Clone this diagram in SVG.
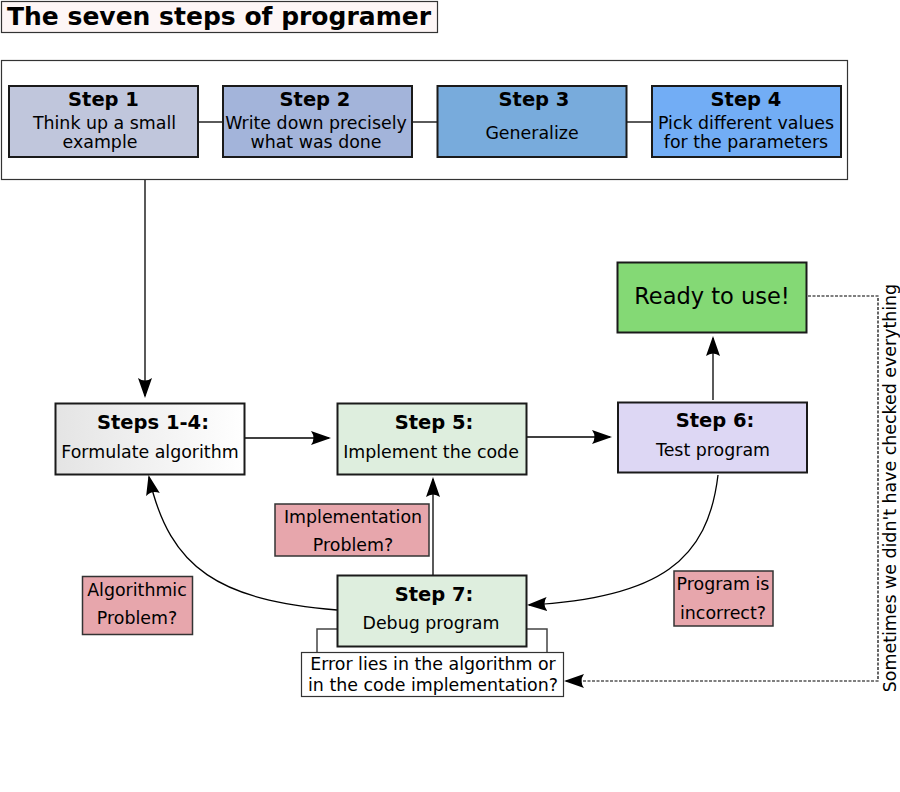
<svg xmlns="http://www.w3.org/2000/svg" width="900" height="792" viewBox="0 0 900 792">
<style>
text{font-family:"DejaVu Sans",sans-serif;fill:#000;text-anchor:middle}
.b{font-weight:bold;font-size:19.5px}
.t{font-size:17.4px}
.box{stroke:#1a1a1a;stroke-width:2}
.pink{fill:#e7a6ac;stroke:#333;stroke-width:1.5}
.c{fill:none;stroke:#000;stroke-width:1.3}
.d{fill:none;stroke:#000;stroke-width:1.2;stroke-dasharray:3,1.5}
</style>
<defs>
<marker id="ah" viewBox="0 0 20 14" refX="18" refY="7" markerWidth="20" markerHeight="14" markerUnits="userSpaceOnUse" orient="auto">
<path d="M0,0 L20,7 L0,14 Q5,7 0,0 Z" fill="#000"/>
</marker>
<linearGradient id="g14" x1="0" x2="1" y1="0" y2="0">
<stop offset="0" stop-color="#e4e4e4"/><stop offset="1" stop-color="#ffffff"/>
</linearGradient>
</defs>

<g id="title">
<rect x="1.5" y="1.5" width="436" height="31" fill="#fdf6f6" stroke="#333" stroke-width="1.2"/>
<text x="219" y="25" style="font-weight:bold;font-size:25px">The seven steps of programer</text>
</g>

<g id="outer">
<rect x="1.5" y="60.5" width="846" height="119" fill="#fff" stroke="#333" stroke-width="1.2"/>
</g>

<g id="connectors">
<line class="c" x1="198" y1="122" x2="222" y2="122"/>
<line class="c" x1="412" y1="122" x2="437" y2="122"/>
<line class="c" x1="627" y1="122" x2="651" y2="122"/>
<line class="c" x1="145" y1="180" x2="145" y2="396" marker-end="url(#ah)"/>
<line class="c" x1="245" y1="438" x2="329" y2="438" marker-end="url(#ah)"/>
<line class="c" x1="527" y1="437" x2="610" y2="437" marker-end="url(#ah)"/>
<line class="c" x1="713" y1="400" x2="713" y2="338" marker-end="url(#ah)"/>
<line class="c" x1="433" y1="575" x2="433" y2="479" marker-end="url(#ah)"/>
<path class="c" d="M337,610 C220,600 170,570 149,477" marker-end="url(#ah)"/>
<path class="c" d="M718,475 C708,560 660,598 529,605" marker-end="url(#ah)"/>
<path class="d" d="M808,296 H878 V681 H566" marker-end="url(#ah)"/>
<path fill="none" stroke="#444" stroke-width="1.5" d="M337,629 H317 V652 M527,629 H547 V652"/>
</g>

<g id="step1">
<rect class="box" x="9" y="86" width="189" height="71" fill="#c0c6dc"/>
<text class="b" x="103.5" y="106">Step 1</text>
<text class="t" x="104.5" y="129">Think up a small</text>
<text class="t" x="100" y="148">example</text>
</g>
<g id="step2">
<rect class="box" x="223" y="86" width="189" height="71" fill="#a3b4da"/>
<text class="b" x="315" y="106">Step 2</text>
<text class="t" x="316" y="129">Write down precisely</text>
<text class="t" x="316" y="148">what was done</text>
</g>
<g id="step3">
<rect class="box" x="437.5" y="86" width="189" height="71" fill="#78abdc"/>
<text class="b" x="534" y="106">Step 3</text>
<text class="t" x="532" y="139">Generalize</text>
</g>
<g id="step4">
<rect class="box" x="652" y="86" width="189" height="71" fill="#72adf5"/>
<text class="b" x="746" y="106">Step 4</text>
<text class="t" x="746" y="129">Pick different values</text>
<text class="t" x="746" y="148">for the parameters</text>
</g>

<g id="steps14">
<rect class="box" x="55.5" y="403.5" width="189" height="71" fill="url(#g14)"/>
<text class="b" x="153" y="429">Steps 1-4:</text>
<text class="t" x="150" y="458">Formulate algorithm</text>
</g>
<g id="step5">
<rect class="box" x="337.5" y="403.5" width="189" height="71" fill="#deeede"/>
<text class="b" x="434" y="429">Step 5:</text>
<text class="t" x="431" y="458">Implement the code</text>
</g>
<g id="step6">
<rect class="box" x="618" y="402.5" width="189" height="70" fill="#ddd7f4"/>
<text class="b" x="715" y="427">Step 6:</text>
<text class="t" x="713" y="456">Test program</text>
</g>
<g id="ready">
<rect class="box" x="617.5" y="262.5" width="189" height="70" fill="#84d975"/>
<text x="712" y="304" style="font-size:22.5px">Ready to use!</text>
</g>
<g id="step7">
<rect class="box" x="337.5" y="575.5" width="189" height="71" fill="#deeede"/>
<text class="b" x="434" y="601">Step 7:</text>
<text class="t" x="431" y="629">Debug program</text>
</g>
<g id="error">
<rect x="301.5" y="652.5" width="262" height="44" fill="#fff" stroke="#333" stroke-width="1.2"/>
<text class="t" x="433" y="670">Error lies in the algorithm or</text>
<text class="t" x="433" y="691">in the code implementation?</text>
</g>
<g id="implProblem">
<rect class="pink" x="275" y="504" width="154" height="52"/>
<text class="t" x="353" y="523">Implementation</text>
<text class="t" x="353" y="551">Problem?</text>
</g>
<g id="algProblem">
<rect class="pink" x="82.5" y="576.5" width="110" height="58"/>
<text class="t" x="137" y="596">Algorithmic</text>
<text class="t" x="137" y="624">Problem?</text>
</g>
<g id="incorrect">
<rect class="pink" x="674" y="571" width="99" height="55"/>
<text class="t" x="723" y="590">Program is</text>
<text class="t" x="723" y="619">incorrect?</text>
</g>
<g id="note">
<text class="t" transform="translate(896,488) rotate(-90)">Sometimes we didn't have checked everything</text>
</g>
</svg>
